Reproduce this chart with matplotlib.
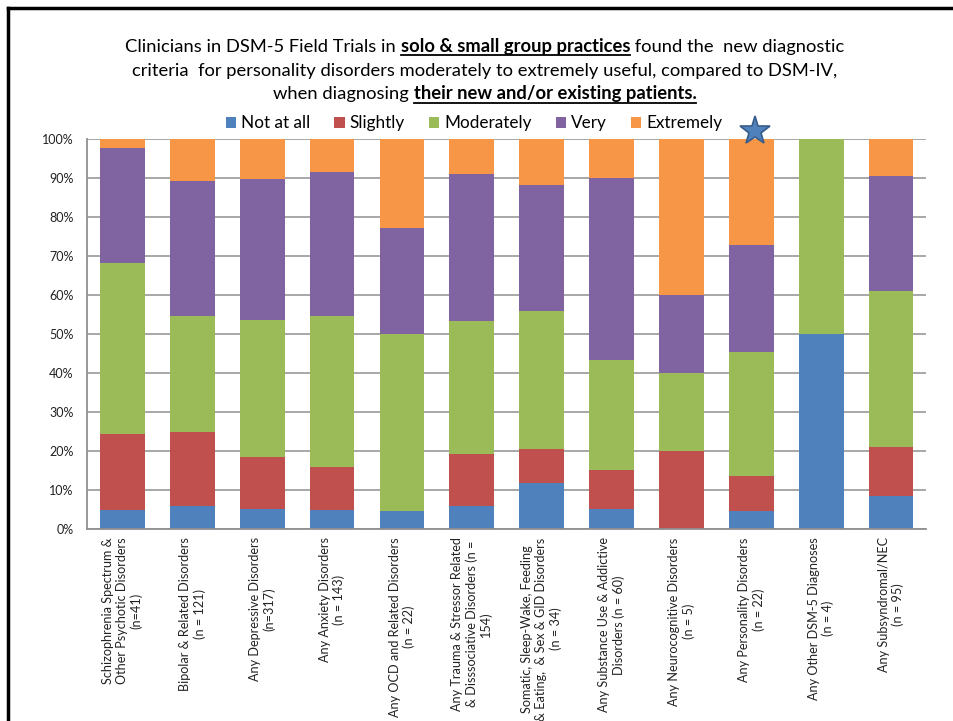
import numpy as np
import matplotlib
matplotlib.use("Agg")
import matplotlib.pyplot as plt
from matplotlib.patches import Patch
from matplotlib.lines import Line2D

plt.rcParams["font.family"] = ["Lato", "DejaVu Sans"]

categories = [
    "Schizophrenia Spectrum &\nOther Psychotic Disorders\n(n=41)",
    "Bipolar & Related Disorders\n(n = 121)",
    "Any Depressive Disorders\n(n=317)",
    "Any Anxiety Disorders\n(n = 143)",
    "Any OCD and Related Disorders\n(n = 22)",
    "Any Trauma & Stressor Related\n& Disssociative Disorders (n =\n154)",
    "Somatic, Sleep-Wake, Feeding\n& Eating,  & Sex & GID Disorders\n(n = 34)",
    "Any Substance Use & Addictive\nDisorders (n = 60)",
    "Any Neurocognitive Disorders\n(n = 5)",
    "Any Personality Disorders\n(n = 22)",
    "Any Other DSM-5 Diagnoses\n(n = 4)",
    "Any Subsyndromal/NEC\n(n = 95)",
]

# percent of clinicians per rating
not_at_all = [4.9, 5.8, 5.2, 4.9, 4.5, 5.8, 11.8, 5.0, 0, 4.5, 50, 8.4]
slightly = [19.5, 19.0, 13.3, 11.0, 0, 13.5, 8.8, 10.0, 20, 9.1, 0, 12.6]
moderately = [43.9, 29.7, 35.0, 38.6, 45.5, 34.0, 35.3, 28.3, 20, 31.9, 50, 40.1]
very = [29.3, 34.8, 36.3, 37.0, 27.3, 37.6, 32.3, 46.7, 20, 27.2, 0, 29.4]
extremely = [2.4, 10.7, 10.2, 8.5, 22.7, 9.1, 11.8, 10.0, 40, 27.3, 0, 9.5]

series_names = ["Not at all", "Slightly", "Moderately", "Very", "Extremely"]
colors = ["#4F81BD", "#C0504D", "#9BBB59", "#8064A2", "#F79646"]

highlight = "Any Personality Disorders\n(n = 22)"

fig = plt.figure(figsize=(9.54, 7.21), dpi=100)
ax = fig.add_axes([0.0917, 0.2663, 0.8789, 0.5409])

x = np.arange(len(categories))
bottom = np.zeros(len(categories))
for name, vals, c in zip(series_names, [not_at_all, slightly, moderately, very, extremely], colors):
    vals = np.array(vals)
    ax.bar(x, vals, width=0.64, bottom=bottom, color=c, zorder=2, linewidth=0)
    bottom += vals

ax.set_xlim(-0.5, len(categories) - 0.5)
ax.set_ylim(0, 100)
ax.set_yticks(np.arange(0, 101, 10))
ax.set_yticklabels([f"{v}%" for v in range(0, 101, 10)], fontsize=9, color="#222222")
ax.set_xticks(x)
ax.set_xticklabels(categories, rotation=90, fontsize=9.1, ha="center", va="top",
                   multialignment="center", linespacing=1.2, color="#222222")
ax.tick_params(axis="both", length=0)
ax.tick_params(axis="y", pad=10)
ax.tick_params(axis="x", pad=6)
ax.yaxis.grid(True, color="#A0A0A0", linewidth=1.3, zorder=0)
ax.set_axisbelow(True)
for s in ["top", "right"]:
    ax.spines[s].set_visible(False)
for s in ["left", "bottom"]:
    ax.spines[s].set_color("#909090")
    ax.spines[s].set_linewidth(1.3)

# star above the personality disorders bar
hi = categories.index(highlight)
ax.plot([hi + 0.05], [102], marker="*", markersize=22, color="#4F81BD",
        markeredgecolor="#385D8A", markeredgewidth=1.2, clip_on=False, zorder=5)

# legend
handles = [Patch(facecolor=c, edgecolor="none") for c in colors]
fig.legend(handles, series_names, loc="center", bbox_to_anchor=(0.497, 0.829),
           ncol=5, frameon=False, fontsize=12.3, handlelength=0.6, handleheight=0.6,
           handletextpad=0.3, columnspacing=1.4)

# title with bold underlined parts
title_lines = [
    [("Clinicians in DSM-5 Field Trials in ", False), ("solo & small group practices", True),
     (" found the  new diagnostic", False)],
    [("criteria  for personality disorders moderately to extremely useful, compared to DSM-IV,", False)],
    [("when diagnosing ", False), ("their new and/or existing patients.", True)],
]
line_y = [0.928, 0.895, 0.862]
W, H = fig.get_size_inches() * fig.dpi
fig.canvas.draw()
renderer = fig.canvas.get_renderer()
for pieces, yy in zip(title_lines, line_y):
    texts = []
    for s, b in pieces:
        t = fig.text(0, yy, s, fontsize=13.2, fontweight="bold" if b else "normal",
                     va="baseline", ha="left", color="black")
        texts.append(t)
    widths = [t.get_window_extent(renderer).width for t in texts]
    total = sum(widths)
    xpos = 0.508 * W - total / 2
    for t, w, (s, b) in zip(texts, widths, pieces):
        t.set_x(xpos / W)
        if b:
            fig.add_artist(Line2D([xpos / W, (xpos + w) / W], [yy - 3.5 / H, yy - 3.5 / H],
                                  color="black", linewidth=1.3))
        xpos += w

# slide frame
fig.add_artist(Line2D([8 / W, 1], [1 - 8 / H, 1 - 8 / H], color="black", linewidth=2.5))
fig.add_artist(Line2D([8 / W, 8 / W], [0, 1 - 8 / H], color="black", linewidth=2.5))

fig.savefig("out.png", dpi=100)
